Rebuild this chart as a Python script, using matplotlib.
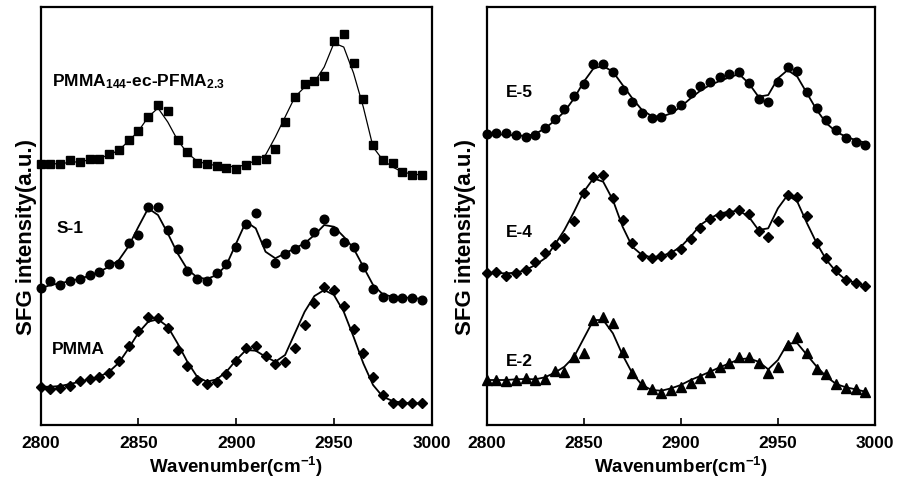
import numpy as np
import matplotlib.pyplot as plt

# wavenumber grid (cm^-1), one point every 5 cm^-1
wavenumber = [2800, 2805, 2810, 2815, 2820, 2825, 2830, 2835, 2840, 2845,
              2850, 2855, 2860, 2865, 2870, 2875, 2880, 2885, 2890, 2895,
              2900, 2905, 2910, 2915, 2920, 2925, 2930, 2935, 2940, 2945,
              2950, 2955, 2960, 2965, 2970, 2975, 2980, 2985, 2990, 2995]
xticks = [2800, 2850, 2900, 2950, 3000]
xticklabels = ['2800', '2850', '2900', '2950', '3000']

# left panel (offset spectra, a.u.)
pfma_pts = [260, 260, 260, 264, 262, 265, 265, 270, 274, 284, 293, 307, 319, 313, 284, 272, 261, 260, 258, 256,
            255, 259, 264, 265, 275, 302, 327, 340, 343, 348, 383, 390, 361, 325, 279, 264, 261, 252, 249, 249]
pfma_fit = [260, 260, 260.5, 261.5, 262.5, 264, 266, 269, 274, 283, 293, 307, 316, 302, 284, 271, 263, 260, 258.5, 257.5,
            257.5, 259, 264, 269, 287, 307, 327, 337, 342, 357, 381, 377, 351, 317, 277, 264, 257, 252, 250, 249]
s1_pts = [136, 143, 139, 143, 145, 149, 152, 160, 160, 181, 189, 217, 217, 194, 175, 153, 145, 143, 151, 160,
          177, 200, 211, 181, 161, 170, 175, 180, 192, 205, 193, 182, 177, 157, 135, 127, 126, 126, 126, 124]
s1_fit = [135.7, 139, 140.7, 143, 145.3, 148.3, 152.3, 157.3, 164, 178, 197.3, 215.7, 209, 190.7, 170.7, 154.7, 146.7, 145, 149, 159,
          180.7, 202.3, 195.7, 172.3, 165.7, 170.7, 175.7, 180.7, 189, 199, 197.3, 187.3, 175.7, 157.3, 139, 129.7, 127.3, 126.7, 126, 125]
pmma_pts = [37.3, 35, 35.7, 38.3, 43, 45, 47.3, 51.3, 63, 78.3, 93.3, 107.3, 105.7, 96.3, 74, 58.3, 44, 40, 41.7, 50,
            63.3, 75.7, 78, 68.3, 60, 62.3, 75.7, 98.7, 120.7, 136.7, 134, 118.3, 95, 70.7, 47.3, 29, 20.7, 20.7, 20.7, 20.7]
pmma_fit = [37.3, 37.3, 38, 40, 42.3, 44.7, 47.3, 52.3, 61.3, 75.7, 91.3, 102.3, 104.7, 97.3, 80.7, 62.3, 47.3, 42.3, 44.7, 52.3,
            64, 74, 73.3, 67.3, 62.3, 69, 90.7, 112.3, 128, 134, 129, 112.3, 87.3, 60.7, 39, 27.3, 23, 21.3, 20.7, 20.7]

# right panel
e5_pts = [289.7, 290.7, 290.7, 289, 287.3, 289, 295.7, 305, 314.7, 328, 339.7, 359.7, 359.7, 352.3, 334, 322.3, 310.7, 305.7, 307.3, 315,
          319, 330.7, 338, 341.7, 346.7, 350, 352.3, 341.3, 324.7, 322.3, 342.3, 357.3, 353, 332.3, 316.3, 304, 294, 286.3, 282.3, 279]
e5_fit = [289.7, 289.7, 289.3, 288.7, 288, 290, 295.7, 303.3, 312.3, 325.7, 342.3, 355.7, 358, 352.3, 339, 325.7, 314, 308, 307.3, 310.7,
          317.3, 325.7, 333.3, 339, 343, 346.7, 350, 340.7, 327.3, 329, 345.7, 354, 347.3, 330.7, 314, 300.7, 292.3, 287.3, 284, 281.3]
e4_pts = [150.7, 152.3, 148.3, 150.7, 154, 161.7, 170.7, 179, 185.7, 203.3, 231.3, 247.3, 249, 225.7, 204, 181.3, 168.3, 165.7, 168, 170,
          174.7, 184.7, 196.3, 204.7, 209, 210.7, 214, 210, 193.3, 187.3, 203.3, 229, 227.3, 208, 181.3, 166.3, 154, 144, 141.3, 138]
e4_fit = [150.7, 151, 150.7, 151.3, 154, 159, 165.7, 179, 194, 212.3, 232.3, 245.7, 242.3, 224, 197.3, 177.3, 169, 166.7, 168, 171.3,
          177.3, 187.3, 199, 205.7, 210.7, 212.3, 213.3, 207.3, 194, 195.7, 215.7, 229, 222.3, 200.7, 180.7, 164, 152.3, 144, 141.3, 138]
e2_pts = [44, 44, 43, 44, 45.7, 44, 44.7, 53.3, 52.3, 67.3, 70.7, 104, 107.3, 101.3, 71.7, 50.7, 40, 34.7, 30.7, 34,
          37.3, 41.3, 45.7, 52.3, 56.7, 61.3, 67.3, 67.3, 61.3, 51.3, 57.3, 79, 86.7, 70.7, 54.7, 50.3, 40, 36.3, 34.7, 31.7]
e2_fit = [44, 44, 44, 44.7, 45, 44.7, 46.7, 51.3, 57.3, 67.3, 85.7, 104, 104, 90.7, 69, 50.7, 39, 34, 33.3, 35.7,
          39, 44, 48, 52.3, 56.7, 60.7, 64.7, 65.7, 62.3, 54.7, 64, 80.7, 80.7, 69, 57.3, 47.3, 40, 36.7, 34.7, 32.3]

plt.rcParams['font.family'] = 'Liberation Sans'
plt.rcParams['font.weight'] = 'bold'
plt.rcParams['mathtext.fontset'] = 'custom'
plt.rcParams['mathtext.rm'] = 'Liberation Sans:bold'
plt.rcParams['mathtext.it'] = 'Liberation Sans:bold'
plt.rcParams['mathtext.bf'] = 'Liberation Sans:bold'
plt.rcParams['mathtext.default'] = 'rm'

fig = plt.figure(figsize=(9, 4.86), dpi=100)
ax1 = fig.add_axes([0.0452, 0.1255, 0.4345, 0.860])
ax2 = fig.add_axes([0.5408, 0.1255, 0.4314, 0.860])

# left panel
ax1.plot(wavenumber, pfma_fit, color='black', lw=0.9)
ax1.plot(wavenumber, pfma_pts, 's', color='black', ms=6.2, clip_on=False)
ax1.plot(wavenumber, s1_fit, color='black', lw=1.3)
ax1.plot(wavenumber, s1_pts, 'o', color='black', ms=6.2, clip_on=False)
ax1.plot(wavenumber, pmma_fit, color='black', lw=1.3)
ax1.plot(wavenumber, pmma_pts, 'D', color='black', ms=4.8, clip_on=False)
ax1.text(2805.6, 338, 'PMMA$_{144}$-ec-PFMA$_{2.3}$', fontsize=12.5, fontweight='bold')
ax1.text(2808.2, 191, 'S-1', fontsize=12.5, fontweight='bold')
ax1.text(2805.6, 70, 'PMMA', fontsize=12.5, fontweight='bold')

# right panel
ax2.plot(wavenumber, e5_fit, color='black', lw=1.3)
ax2.plot(wavenumber, e5_pts, 'o', color='black', ms=6.2, clip_on=False)
ax2.plot(wavenumber, e4_fit, color='black', lw=1.3)
ax2.plot(wavenumber, e4_pts, 'D', color='black', ms=4.8, clip_on=False)
ax2.plot(wavenumber, e2_fit, color='black', lw=1.3)
ax2.plot(wavenumber, e2_pts, '^', color='black', ms=6.5, clip_on=False)
ax2.text(2810, 327, 'E-5', fontsize=12.5, fontweight='bold')
ax2.text(2810, 187, 'E-4', fontsize=12.5, fontweight='bold')
ax2.text(2810, 58, 'E-2', fontsize=12.5, fontweight='bold')

for ax, lx in [(ax1, -0.010), (ax2, -0.028)]:
    ax.set_xlim(2800, 3000)
    ax.set_ylim(-1, 417)
    ax.set_xticks(xticks, labels=xticklabels, fontsize=12.5, fontweight='bold')
    ax.set_yticks([])
    ax.tick_params(axis='x', direction='in', length=5, width=1.2, pad=8)
    for sp in ax.spines.values():
        sp.set_linewidth(1.6)
    ax.set_xlabel('Wavenumber(cm$^{-1}$)', fontsize=13.5, fontweight='bold', labelpad=3)
    ax.set_ylabel('SFG intensity(a.u.)', fontsize=16, fontweight='bold')
    ax.yaxis.set_label_coords(lx, 0.45)

plt.savefig('out.png', dpi=100)
